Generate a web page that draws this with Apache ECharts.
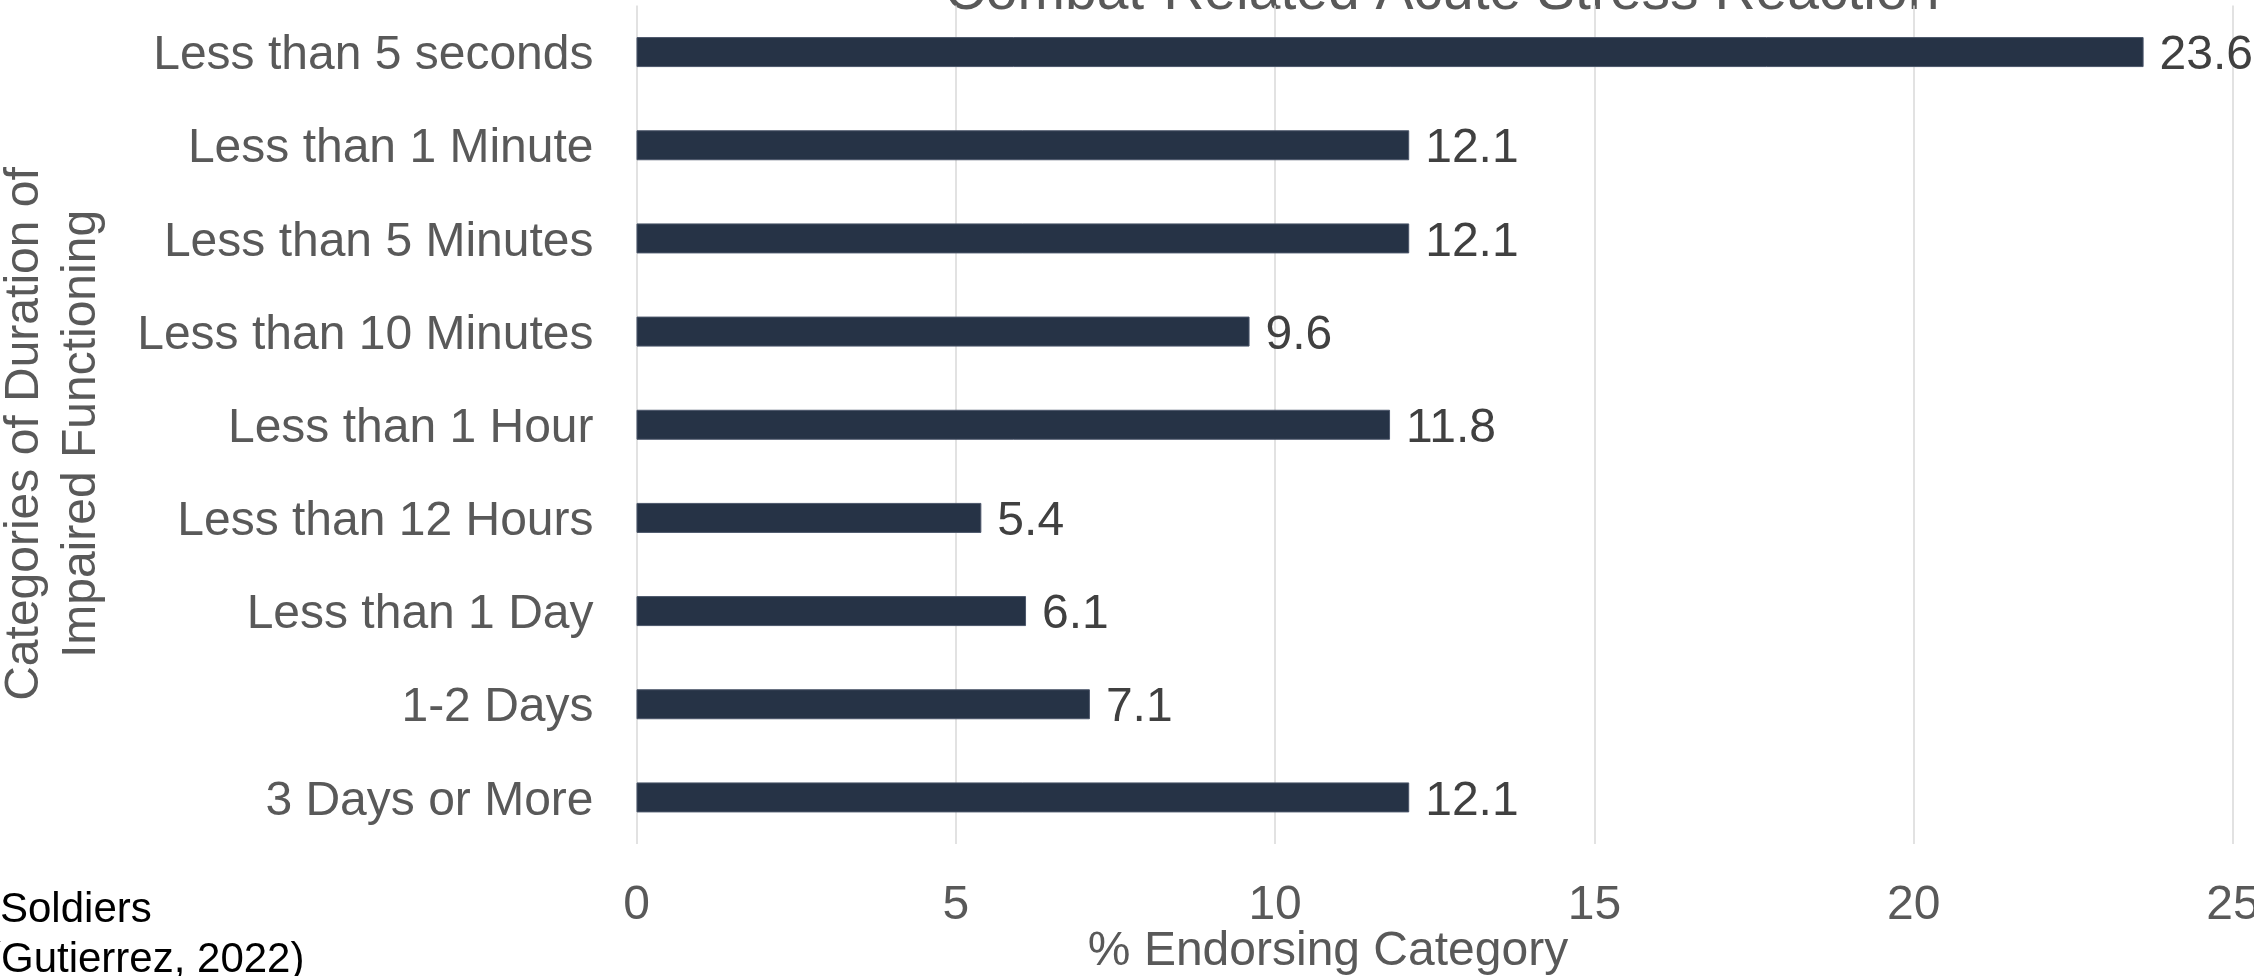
<!DOCTYPE html>
<html>
<head>
<meta charset="utf-8">
<title>Combat-Related Acute Stress Reaction</title>
<script src="https://cdn.jsdelivr.net/npm/echarts@6/dist/echarts.min.js"></script>
<style>
  html, body { margin: 0; padding: 0; background: #ffffff; overflow: hidden; }
  #chart { width: 2254px; height: 976px; }
</style>
</head>
<body>
<div id="chart"></div>
<script>
// Duration categories, top to bottom
const categories = [
  'Less than 5 seconds',
  'Less than 1 Minute',
  'Less than 5 Minutes',
  'Less than 10 Minutes',
  'Less than 1 Hour',
  'Less than 12 Hours',
  'Less than 1 Day',
  '1-2 Days',
  '3 Days or More'
];

// Percent of soldiers endorsing each category
const endorsing = [23.6, 12.1, 12.1, 9.6, 11.8, 5.4, 6.1, 7.1, 12.1];

// Value axis range and step
const axisMin = 0;
const axisMax = 25;
const axisStep = 5;

const titleText = 'Combat-Related Acute Stress Reaction';
const xAxisTitle = '% Endorsing Category';
const yAxisTitle = 'Categories of Duration of\nImpaired Functioning';
const noteLines = ['Soldiers', '(Gutierrez, 2022)'];

const FONT = '"Liberation Sans", Arial, sans-serif';
const GREY = '#595959';

const chart = echarts.init(document.getElementById('chart'), null, { renderer: 'canvas' });

chart.setOption({
  backgroundColor: '#ffffff',
  animation: false,
  textStyle: { fontFamily: FONT },
  grid: {
    left: 636.5, right: 21, top: 5.5, bottom: 132,
    containLabel: false,
    outerBoundsMode: 'none'
  },
  xAxis: {
    type: 'value',
    min: axisMin,
    max: axisMax,
    interval: axisStep,
    axisLine: { show: false },
    axisTick: { show: false },
    splitLine: { show: true, lineStyle: { color: '#d9d9d9', width: 1.5 } },
    axisLabel: { color: GREY, fontSize: 48, fontFamily: FONT, margin: 38, hideOverlap: false }
  },
  yAxis: {
    type: 'category',
    data: categories,
    inverse: true,
    axisLine: { show: false },
    axisTick: { show: false },
    splitLine: { show: false },
    // a short top-aligned line box drops each label a few pixels below the band centre
    axisLabel: { color: GREY, fontSize: 48, fontFamily: FONT, margin: 43, verticalAlign: 'top', lineHeight: 8 }
  },
  series: [{
    type: 'bar',
    data: endorsing,
    barWidth: 30,
    itemStyle: { color: '#263346', borderColor: '#4b566a', borderWidth: 1 },
    label: {
      show: true,
      position: 'right',
      distance: 16,
      offset: [0, 4],
      color: '#404040',
      fontSize: 48,
      fontFamily: FONT,
      formatter: p => p.value.toFixed(1)
    }
  }],
  graphic: [
    {
      type: 'text', x: 1442, y: -7,
      style: { text: titleText, fill: GREY, font: '57px ' + FONT, align: 'center', verticalAlign: 'middle' }
    },
    {
      type: 'text', x: 1328, y: 952,
      style: { text: xAxisTitle, fill: GREY, font: '48px ' + FONT, align: 'center', verticalAlign: 'middle' }
    },
    {
      type: 'text', x: 53, y: 434, rotation: Math.PI / 2,
      style: { text: yAxisTitle, fill: GREY, font: '48px ' + FONT, lineHeight: 57, align: 'center', verticalAlign: 'middle' }
    },
    {
      type: 'text', x: 0, y: 910,
      style: { text: noteLines[0], fill: '#000000', font: '42px ' + FONT, align: 'left', verticalAlign: 'middle' }
    },
    {
      type: 'text', x: -13, y: 960,
      style: { text: noteLines[1], fill: '#000000', font: '42px ' + FONT, align: 'left', verticalAlign: 'middle' }
    }
  ]
});
</script>
</body>
</html>
